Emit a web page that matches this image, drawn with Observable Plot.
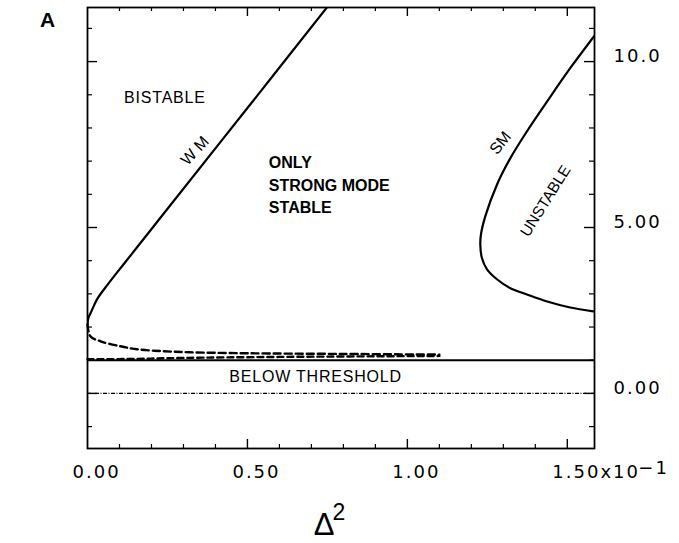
<!DOCTYPE html>
<html><head><meta charset="utf-8">
<script src="https://cdn.jsdelivr.net/npm/d3@7"></script>
<script src="https://cdn.jsdelivr.net/npm/@observablehq/plot@0.6"></script>
<style>
body{margin:0;background:#fff}
g[aria-description="ticklabel"] text{letter-spacing:2px}
g[aria-description="region"] text{letter-spacing:0.8px}
</style></head><body><div id="chart"></div>
<script>
// ---- data ----
const xDomain = [0, 1.585];
const yDomain = [-1.66, 11.63];

// WM (weak mode) boundary: stable (solid) branch
const wmUpperX = [0.000, 0.003, 0.012, 0.032, 0.063, 0.116, 0.199, 0.267, 0.500, 0.750];
const wmUpperA = [2.08, 2.28, 2.47, 2.87, 3.28, 3.93, 4.94, 5.77, 8.60, 11.65];
// WM unstable (dashed) branch
const wmLowerX = [0.000, 0.009, 0.041, 0.103, 0.155, 0.240, 0.320, 0.500, 0.800, 1.100];
const wmLowerA = [2.08, 1.72, 1.57, 1.42, 1.33, 1.27, 1.24, 1.21, 1.19, 1.17];
// second dashed branch hugging the threshold
const wmLow2X = [0.000, 0.150, 0.300, 0.600, 1.100];
const wmLow2A = [1.03, 1.04, 1.07, 1.10, 1.13];
// SM (strong mode) boundary
const smX = [1.581, 1.509, 1.437, 1.374, 1.322, 1.280, 1.249, 1.233, 1.228, 1.230, 1.244, 1.280, 1.322, 1.374, 1.437, 1.509, 1.585];
const smA = [2.47, 2.59, 2.77, 2.98, 3.17, 3.44, 3.74, 4.08, 4.49, 4.79, 5.35, 6.29, 7.09, 7.90, 8.80, 9.80, 10.78];
// horizontal reference levels
const thresholdLevel = [1.0];
const zeroLevel = [0.0];

// ticks
const xMinorTicks = [0.1, 0.2, 0.3, 0.4, 0.6, 0.7, 0.8, 0.9, 1.1, 1.2, 1.3, 1.4];
const xMajorTicks = [0.5, 1.0, 1.5];
const xTickValues = [0.0, 0.5, 1.0, 1.5];
const xTickLabels = ["0.00", "0.50", "1.00", "1.50x10"];
const yMinorTicks = [-1, 1, 2, 3, 4, 6, 7, 8, 9, 11];
const yMajorTicks = [0, 5, 10];
const yTickLabels = ["0.00", "5.00", "10.0"];

// region labels
const regionLabels = ["BISTABLE", "BELOW THRESHOLD"];
const regionX = [0.242, 0.713];
const regionA = [8.91, 0.51];
const boldLines = ["ONLY", "STRONG MODE", "STABLE"];
const boldX = [0.567, 0.567, 0.567];
const boldA = [6.95, 6.25, 5.58];

const toPts = (xs, as) => xs.map((x, i) => ({x, a: as[i]}));
const frameH = 543 - 7 - 95;
const frameW = 679 - 87 - 85;
const tickFont = {fontSize: 18, fontFamily: "'DejaVu Sans', sans-serif", fill: "black", ariaDescription: "ticklabel", lineAnchor: "middle", textAnchor: "start"};

const plot = Plot.plot({
  width: 679, height: 543,
  marginLeft: 87, marginRight: 85, marginTop: 7, marginBottom: 95,
  x: {domain: xDomain, axis: null},
  y: {domain: yDomain, axis: null},
  style: {background: "white", fontFamily: "'Liberation Sans', Arial, sans-serif", color: "black"},
  marks: [
    // reference levels
    Plot.ruleY(zeroLevel, {y: d => d, stroke: "black", strokeWidth: 1.3, strokeDasharray: "4,1.5,1,1.5"}),
    Plot.ruleY(thresholdLevel, {y: d => d, stroke: "black", strokeWidth: 2}),
    // curves
    Plot.line(toPts(wmUpperX, wmUpperA), {x: "x", y: "a", stroke: "black", strokeWidth: 2.2, curve: "catmull-rom", clip: true}),
    Plot.line(toPts(wmLowerX, wmLowerA), {x: "x", y: "a", stroke: "black", strokeWidth: 2.4, strokeDasharray: "7,4", curve: "catmull-rom"}),
    Plot.line(toPts(wmLow2X, wmLow2A), {x: "x", y: "a", stroke: "black", strokeWidth: 2.4, strokeDasharray: "6,4", curve: "catmull-rom"}),
    Plot.line(toPts(smX, smA), {x: "x", y: "a", stroke: "black", strokeWidth: 2.2, curve: "catmull-rom", clip: true}),
    // frame
    Plot.frame({stroke: "black", strokeWidth: 1.8}),
    // ticks (inward)
    Plot.tickX(xMinorTicks, {x: d => d, stroke: "black", strokeWidth: 1.2, insetTop: frameH - 4}),
    Plot.tickX(xMinorTicks, {x: d => d, stroke: "black", strokeWidth: 1.2, insetBottom: frameH - 4}),
    Plot.tickX(xMajorTicks, {x: d => d, stroke: "black", strokeWidth: 1.4, insetTop: frameH - 9}),
    Plot.tickX(xMajorTicks, {x: d => d, stroke: "black", strokeWidth: 1.4, insetBottom: frameH - 9}),
    Plot.tickY(yMinorTicks, {y: d => d, stroke: "black", strokeWidth: 1.2, insetRight: frameW - 5}),
    Plot.tickY(yMinorTicks, {y: d => d, stroke: "black", strokeWidth: 1.2, insetLeft: frameW - 5}),
    Plot.tickY(yMajorTicks, {y: d => d, stroke: "black", strokeWidth: 1.4, insetRight: frameW - 10}),
    Plot.tickY(yMajorTicks, {y: d => d, stroke: "black", strokeWidth: 1.4, insetLeft: frameW - 10}),
    // tick labels
    Plot.text(xTickValues, {x: d => d, text: (d, i) => xTickLabels[i], frameAnchor: "bottom", dy: 24, dx: -15, ...tickFont}),
    Plot.text(["\u22121"], {x: () => 1.5, text: d => d, frameAnchor: "bottom", dy: 20, dx: 71, ...tickFont}),
    Plot.text(yMajorTicks, {y: d => d, text: (d, i) => yTickLabels[i], frameAnchor: "right", dx: 19, dy: -5, ...tickFont}),
    // axis titles
    Plot.text(["A"], {text: d => d, frameAnchor: "top-left", dx: -40, dy: 13, textAnchor: "middle", lineAnchor: "middle", fontSize: 21, fontWeight: "bold", fill: "black"}),
    Plot.text(["\u0394"], {text: d => d, frameAnchor: "bottom", dx: -17, dy: 77, textAnchor: "middle", lineAnchor: "middle", fontSize: 31, fill: "black"}),
    Plot.text(["2"], {text: d => d, frameAnchor: "bottom", dx: -2, dy: 64, textAnchor: "middle", lineAnchor: "middle", fontSize: 23, fill: "black"}),
    // region labels
    Plot.text(regionLabels, {x: (d, i) => regionX[i], y: (d, i) => regionA[i], text: d => d, fontSize: 16, fill: "black", ariaDescription: "region"}),
    Plot.text(boldLines, {x: (d, i) => boldX[i], y: (d, i) => boldA[i], text: d => d, textAnchor: "start", fontSize: 16, fontWeight: "bold", fill: "black"}),
    Plot.text(["W M"], {x: () => 0.336, y: () => 7.31, text: d => d, rotate: -47, fontSize: 16, fill: "black"}),
    Plot.text(["SM"], {x: () => 1.291, y: () => 7.55, text: d => d, rotate: -51, fontSize: 16, fill: "black"}),
    Plot.text(["UNSTABLE"], {x: () => 1.432, y: () => 5.8, text: d => d, rotate: -58, fontSize: 15.5, fill: "black"})
  ]
});
document.getElementById("chart").appendChild(plot);
</script></body></html>
